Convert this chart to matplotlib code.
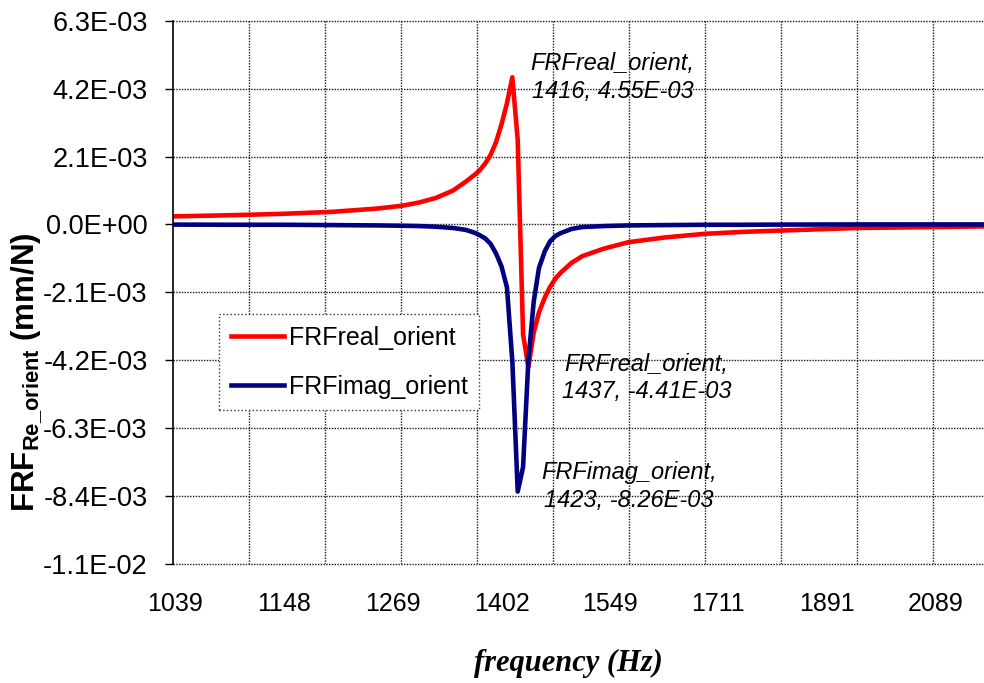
import numpy as np
import matplotlib
matplotlib.use("Agg")
import matplotlib.pyplot as plt
from matplotlib.ticker import FixedLocator, FixedFormatter, NullFormatter

plt.rcParams['font.family'] = ['Liberation Sans', 'DejaVu Sans']

# frequency (Hz) and FRF values (mm/N)
freq = [1039, 1100, 1148, 1200, 1250, 1280, 1300, 1320, 1341, 1357, 1367, 1374,
        1381, 1388, 1395, 1402, 1409, 1416, 1423, 1430, 1437, 1444, 1451, 1459,
        1466, 1473, 1480, 1495, 1510, 1540, 1575, 1630, 1690, 1750, 1811, 1943,
        2089, 2184]
frf_real = [0.25, 0.29, 0.33, 0.39, 0.49, 0.58, 0.68, 0.82, 1.05, 1.33, 1.52, 1.67,
            1.88, 2.15, 2.55, 3.10, 3.75, 4.55, 2.60, -3.40, -4.41, -3.35, -2.72, -2.25,
            -1.93, -1.68, -1.50, -1.19, -0.98, -0.75, -0.55, -0.40, -0.29, -0.23, -0.19, -0.11,
            -0.08, -0.06]
frf_imag = [-0.005, -0.01, -0.01, -0.02, -0.03, -0.04, -0.05, -0.07, -0.11, -0.17, -0.25, -0.33,
            -0.43, -0.60, -0.90, -1.30, -1.95, -4.24, -8.26, -7.50, -4.20, -2.40, -1.35, -0.82,
            -0.52, -0.36, -0.27, -0.14, -0.08, -0.05, -0.03, -0.02, -0.01, -0.01, -0.005, 0.0,
            0.0, 0.0]
frf_real = np.array(frf_real) * 1e-3
frf_imag = np.array(frf_imag) * 1e-3

x_tick_vals = [1039, 1148, 1269, 1402, 1549, 1711, 1891, 2089]
x_tick_labels = ['1039', '1148', '1269', '1402', '1549', '1711', '1891', '2089']
y_tick_vals = [-10.5e-3, -8.4e-3, -6.3e-3, -4.2e-3, -2.1e-3, 0.0, 2.1e-3, 4.2e-3, 6.3e-3]
y_tick_labels = ['-1.1E-02', '-8.4E-03', '-6.3E-03', '-4.2E-03', '-2.1E-03',
                 '0.0E+00', '2.1E-03', '4.2E-03', '6.3E-03']

# annotated points: (label, f, value, text offset in pixels)
notes = [('FRFreal_orient,\n1416, 4.55E-03', 1416, 4.55e-3, (100, 0)),
         ('FRFreal_orient,\n1437, -4.41E-03', 1437, -4.41e-3, (118, -11)),
         ('FRFimag_orient,\n1423, -8.26E-03', 1423, -8.26e-3, (111, 5))]

fig = plt.figure(figsize=(9.84, 6.83), dpi=100)
ax = fig.add_axes([0.1755, 0.1742, 0.8245, 0.7955])

ax.plot(freq, frf_real, color='#FF0000', lw=3.3, label='FRFreal_orient', clip_on=False)
ax.plot(freq, frf_imag, color='#000080', lw=3.3, label='FRFimag_orient', clip_on=False)

# category-like log axis: 0.5 % steps, gridlines every 14 steps
step = 1.005
f_left = 1039 / step ** 0.5
grid_pos = [f_left * step ** (14 * k) for k in range(1, 12)]
ax.set_xscale('log')
ax.set_xlim(f_left, 2184)
ax.xaxis.set_major_locator(FixedLocator(x_tick_vals))
ax.xaxis.set_major_formatter(FixedFormatter(x_tick_labels))
ax.xaxis.set_minor_locator(FixedLocator(grid_pos))
ax.xaxis.set_minor_formatter(NullFormatter())
ax.tick_params(axis='x', which='both', length=0, pad=20, labelsize=18)

ax.set_ylim(-10.5e-3, 6.3e-3)
ax.set_yticks(y_tick_vals)
ax.set_yticklabels(y_tick_labels)
ax.tick_params(axis='y', length=6, width=1, direction='out', pad=12, labelsize=19.5)

gs = dict(linestyle=(0, (1, 1)), color='#1a1a1a', lw=1.0)
ax.yaxis.grid(True, which='major', **gs)
ax.xaxis.grid(True, which='minor', **gs)
ax.xaxis.grid(False, which='major')
ax.set_axisbelow(True)
for gl in ax.get_ygridlines():
    gl.set_clip_on(False)

for s in ['top', 'right', 'bottom']:
    ax.spines[s].set_visible(False)
ax.spines['left'].set_linewidth(1.2)

for text, f, v, off in notes:
    ax.annotate(text, xy=(f, v), xytext=off, textcoords='offset pixels',
                ha='center', va='center', fontsize=17, style='italic',
                linespacing=1.25)

leg = ax.legend(loc='upper left', bbox_to_anchor=(0.0574, 0.4596), borderaxespad=0,
                fontsize=18, handlelength=2.15, handletextpad=0.2, labelspacing=1.0,
                borderpad=0.45, fancybox=False, framealpha=1)
leg.get_frame().set_linestyle(':')
leg.get_frame().set_edgecolor('#333333')
leg.get_frame().set_linewidth(1.0)

fig.text(27 / 984, 1 - 372.5 / 683, r'FRF$_{\mathregular{Re\_orient}}$ (mm/N)',
         rotation=90, ha='center', va='center', fontsize=22.5, fontweight='bold')
fig.text(568 / 984, 1 - 663 / 683, 'frequency (Hz)', ha='center', va='center',
         fontsize=22, fontweight='bold', style='italic', family='Liberation Serif')

fig.savefig('out.png', dpi=100)
